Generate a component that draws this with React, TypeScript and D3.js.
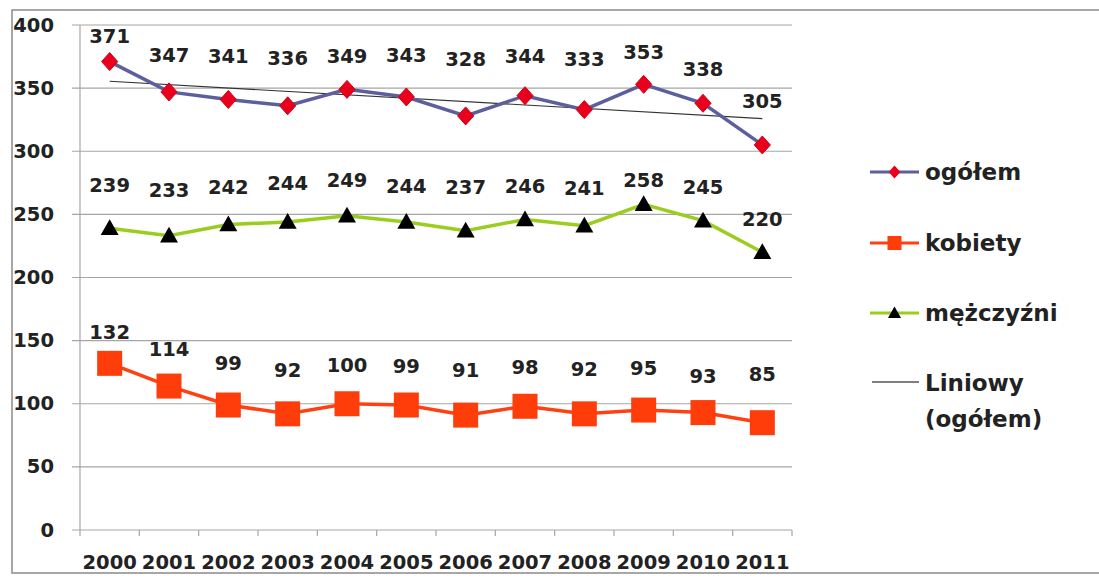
import React from "react";
import * as d3 from "d3";

const years = ["2000","2001","2002","2003","2004","2005","2006","2007","2008","2009","2010","2011"];
const ogolem = [371,347,341,336,349,343,328,344,333,353,338,305];
const kobiety = [132,114,99,92,100,99,91,98,92,95,93,85];
const mezczyzni = [239,233,242,244,249,244,237,246,241,258,245,220];
const yTicks = [0,50,100,150,200,250,300,350,400];
// label nudges (pixels above the point)
const ogolemDy = [25,36,43,47,33,41,56,39,50,32,34,43];
const mezDy = [43,45,37,38,35,35,43,33,37,24,33,33];
const kobDy = [31,37,42,43,38,39,45,39,44,42,36,48];

const FONT = "'DejaVu Sans', sans-serif";
const TXT = "#222";
const FS = 19.5;

export default function App() {
  const left = 80, right = 792, top = 25, bottom = 530;
  const x = d3.scaleBand<string>().domain(years).range([left, right]);
  const y = d3.scaleLinear().domain([0, 400]).range([bottom, top]);
  const cx = (i: number) => (x(years[i]) as number) + x.bandwidth() / 2;

  const line = d3.line<number>().x((_, i) => cx(i)).y((v) => y(v));

  // linear trend of ogółem
  const n = ogolem.length;
  const mx = d3.mean(d3.range(n)) as number;
  const my = d3.mean(ogolem) as number;
  const sxy = d3.sum(ogolem, (v, i) => (i - mx) * (v - my));
  const sxx = d3.sum(d3.range(n), (i) => (i - mx) * (i - mx));
  const slope = sxy / sxx;
  const icpt = my - slope * mx;

  const diamond = (px: number, py: number, r: number) =>
    `M${px},${py - r}L${px + r * 0.9},${py}L${px},${py + r}L${px - r * 0.9},${py}Z`;
  const tri = (px: number, py: number, r: number) =>
    `M${px},${py - r}L${px + r},${py + r * 0.75}L${px - r},${py + r * 0.75}Z`;

  const labels = (vals: number[], dy: number[]) =>
    vals.map((v, i) => (
      <text key={i} x={cx(i)} y={y(v) - dy[i]} textAnchor="middle" dominantBaseline="central"
        fontFamily={FONT} fontWeight="bold" fontSize={FS} fill={TXT}>{v}</text>
    ));

  const legendItems = [
    { name: "ogółem", y: 172 },
    { name: "kobiety", y: 243 },
    { name: "mężczyźni", y: 313 },
  ];

  return (
    <svg width={1099} height={578} style={{ position: "absolute", left: 0, top: 0, background: "#fff" }}>
      <rect x={0} y={0} width={1099} height={578} fill="#fff" />
      <rect x={12} y={10} width={1090} height={563} fill="none" stroke="#8a8a8a" strokeWidth={1.5} />
      {/* gridlines */}
      {yTicks.map((t) => (
        <g key={t}>
          <line x1={72} x2={right} y1={y(t)} y2={y(t)} stroke="#a6a6a6" strokeWidth={1.2} />
          <text x={54} y={y(t)} textAnchor="end" dominantBaseline="central"
            fontFamily={FONT} fontWeight="bold" fontSize={FS} fill={TXT}>{t}</text>
        </g>
      ))}
      {/* y axis */}
      <line x1={left} x2={left} y1={top} y2={bottom} stroke="#a6a6a6" strokeWidth={1.2} />
      {/* x ticks */}
      {years.map((yr) => (
        <line key={yr} x1={x(yr) as number} x2={x(yr) as number} y1={bottom} y2={bottom + 6} stroke="#a6a6a6" strokeWidth={1.2} />
      ))}
      <line x1={right} x2={right} y1={bottom} y2={bottom + 6} stroke="#a6a6a6" strokeWidth={1.2} />
      {years.map((yr, i) => (
        <text key={yr} x={cx(i)} y={562} textAnchor="middle" dominantBaseline="central"
          fontFamily={FONT} fontWeight="bold" fontSize={FS} fill={TXT}>{yr}</text>
      ))}

      {/* trend line */}
      <line x1={cx(0)} x2={cx(n - 1)} y1={y(icpt)} y2={y(icpt + slope * (n - 1))} stroke="#333" strokeWidth={1.2} />

      {/* ogółem */}
      <path d={line(ogolem) as string} fill="none" stroke="#5d5f9c" strokeWidth={3.5} />
      {ogolem.map((v, i) => (
        <path key={i} d={diamond(cx(i), y(v), 9)} fill="#e8001c" stroke="#d00018" strokeWidth={1} />
      ))}
      {labels(ogolem, ogolemDy)}

      {/* mężczyźni */}
      <path d={line(mezczyzni) as string} fill="none" stroke="#9acd1e" strokeWidth={3.5} />
      {mezczyzni.map((v, i) => (
        <path key={i} d={tri(cx(i), y(v), 9)} fill="#000" />
      ))}
      {labels(mezczyzni, mezDy)}

      {/* kobiety */}
      <path d={line(kobiety) as string} fill="none" stroke="#ff4012" strokeWidth={3.5} />
      {kobiety.map((v, i) => (
        <rect key={i} x={cx(i) - 12.5} y={y(v) - 12.5} width={25} height={25} fill="#ff3d0a" />
      ))}
      {labels(kobiety, kobDy)}

      {/* legend */}
      {legendItems.map((it, k) => (
        <g key={it.name}>
          <line x1={870} x2={919} y1={it.y} y2={it.y}
            stroke={k === 0 ? "#5d5f9c" : k === 1 ? "#ff4012" : "#9acd1e"} strokeWidth={3} />
          {k === 0 && <path d={diamond(894.5, it.y, 6.5)} fill="#e8001c" />}
          {k === 1 && <rect x={894.5 - 7} y={it.y - 7} width={14} height={14} fill="#ff3d0a" />}
          {k === 2 && <path d={tri(894.5, it.y, 6.5)} fill="#000" />}
          <text x={925} y={it.y} dominantBaseline="central" fontFamily={FONT} fontWeight="bold"
            fontSize={23} fill={TXT}>{it.name}</text>
        </g>
      ))}
      <line x1={872} x2={919} y1={382} y2={382} stroke="#555" strokeWidth={1.5} />
      <text x={925} y={383} dominantBaseline="central" fontFamily={FONT} fontWeight="bold" fontSize={23} fill={TXT}>Liniowy</text>
      <text x={925} y={419} dominantBaseline="central" fontFamily={FONT} fontWeight="bold" fontSize={23} fill={TXT}>(ogółem)</text>
    </svg>
  );
}
